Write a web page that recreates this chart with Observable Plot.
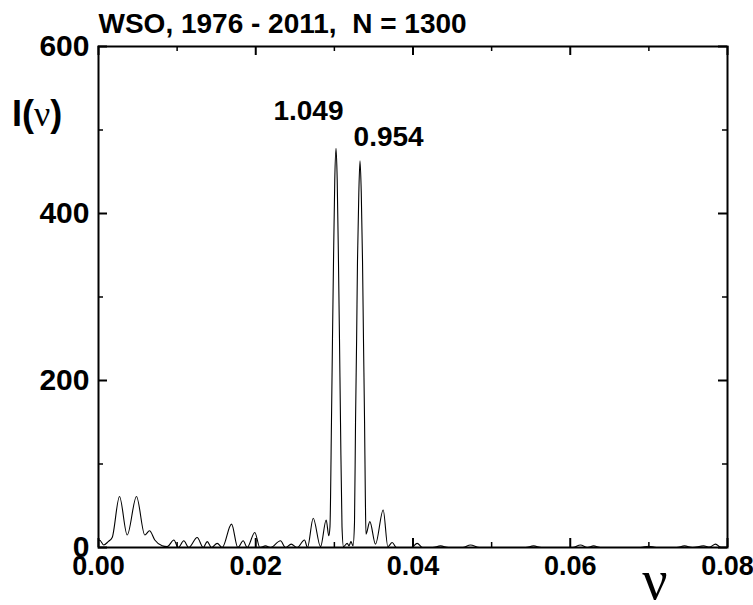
<!DOCTYPE html>
<html><head><meta charset="utf-8">
<script src="https://cdn.jsdelivr.net/npm/d3@7"></script>
<script src="https://cdn.jsdelivr.net/npm/@observablehq/plot@0.6"></script>
<style>
body{margin:0;background:#fff}
svg{display:block}
</style>
</head><body><div id="chart"></div>
<script>
// Frequency (nu) and periodogram intensity I(nu)
const nu = [
0.00000,0.00013,0.00067,0.00123,0.00174,0.00267,0.00365,0.00483,0.00589,0.00649,
0.00716,0.00810,0.00874,0.00958,0.01014,0.01085,0.01148,0.01255,0.01332,0.01383,
0.01437,0.01510,0.01573,0.01692,0.01772,0.01840,0.01891,0.01988,0.02052,0.02124,
0.02188,0.02315,0.02378,0.02451,0.02527,0.02620,0.02658,0.02731,0.02824,0.02896,
0.02929,0.02944,0.02963,0.02976,0.02989,0.03005,0.03021,0.03036,0.03052,0.03065,
0.03078,0.03097,0.03116,0.03163,0.03186,0.03211,0.03237,0.03256,0.03269,0.03283,
0.03294,0.03311,0.03326,0.03342,0.03358,0.03370,0.03384,0.03394,0.03402,0.03451,
0.03523,0.03621,0.03680,0.03735,0.03790,0.03981,0.04053,0.04121,0.04248,0.04350,
0.04452,0.04630,0.04731,0.04846,0.05431,0.05533,0.05634,0.06029,0.06130,0.06219,
0.06296,0.06385,0.06894,0.06996,0.07097,0.07351,0.07453,0.07555,0.07695,0.07771,
0.07847,0.07924,0.08000];
const intensity = [
8,9,3,7,12,61,15,61,15,20,
9,2,1,9,0,8,0,12,0,7,
0,5,0,28,0,8,0,18,0,2,
0,8,0,4,0,9,0,35,1,33,
14,25,150,250,343,440,478,440,343,250,
150,25,1,5,2,7,2,30,150,250,
343,425,463,425,343,250,150,60,16,31,
4,45,1,6,0,0,5,0,0,2,
0,0,3,0,0,2,0,0,3,0,
2,0,0,1.5,0,0,2,0,2,0.5,
4,0,0];

const xMajorTicks = [0, 0.02, 0.04, 0.06, 0.08];
const xMinorTicks = [0.01, 0.03, 0.05, 0.07];
const yMajorTicks = [0, 200, 400, 600];
const yMinorTicks = [100, 300, 500];
const xTickLabels = ["0.00", "0.02", "0.04", "0.06", "0.08"];
const yTickLabels = ["0", "200", "400", "600"];

const peakLabels = ["1.049", "0.954"];
const peakLabelNu = [0.0267, 0.0369];
const peakLabelI = [523, 491];

const titleText = "WSO, 1976 - 2011,  N = 1300";

const data = nu.map((v, i) => ({nu: v, I: intensity[i]}));
const peaks = peakLabels.map((t, i) => ({t, nu: peakLabelNu[i], I: peakLabelI[i]}));

const W = 753, H = 605, mL = 98, mR = 26, mT = 46, mB = 58;
const pw = W - mL - mR, ph = H - mT - mB;
const sans = "'Liberation Sans', Arial, Helvetica, sans-serif";
const serif = "'Liberation Serif', 'Times New Roman', serif";

const chart = Plot.plot({
  width: W, height: H,
  marginLeft: mL, marginRight: mR, marginTop: mT, marginBottom: mB,
  style: {fontFamily: sans, background: "#fff", color: "#000"},
  x: {domain: [0, 0.08], label: null},
  y: {domain: [0, 600], label: null},
  marks: [
    Plot.line(data, {x: "nu", y: "I", curve: "monotone-x", stroke: "#000", strokeWidth: 1.1, clip: true}),
    Plot.frame({stroke: "#000", strokeWidth: 2}),
    // inward ticks on all four sides
    Plot.tickX(xMajorTicks, {x: d => d, insetTop: ph - 9, stroke: "#000", strokeWidth: 2}),
    Plot.tickX(xMajorTicks, {x: d => d, insetBottom: ph - 9, stroke: "#000", strokeWidth: 2}),
    Plot.tickX(xMinorTicks, {x: d => d, insetTop: ph - 5, stroke: "#000", strokeWidth: 1.5}),
    Plot.tickX(xMinorTicks, {x: d => d, insetBottom: ph - 5, stroke: "#000", strokeWidth: 1.5}),
    Plot.tickY(yMajorTicks, {y: d => d, insetRight: pw - 9, stroke: "#000", strokeWidth: 2}),
    Plot.tickY(yMajorTicks, {y: d => d, insetLeft: pw - 9, stroke: "#000", strokeWidth: 2}),
    Plot.tickY(yMinorTicks, {y: d => d, insetRight: pw - 5, stroke: "#000", strokeWidth: 1.5}),
    Plot.tickY(yMinorTicks, {y: d => d, insetLeft: pw - 5, stroke: "#000", strokeWidth: 1.5}),
    Plot.axisX(xMajorTicks, {anchor: "bottom", tickSize: 0, tickPadding: 8,
      tickFormat: d => xTickLabels[xMajorTicks.indexOf(d)],
      fontSize: 27, fontWeight: "bold", fill: "#000"}),
    Plot.axisY(yMajorTicks, {anchor: "left", tickSize: 0, tickPadding: 9,
      tickFormat: d => yTickLabels[yMajorTicks.indexOf(d)],
      fontSize: 30, fontWeight: "bold", fill: "#000"}),
    Plot.text(peaks, {x: "nu", y: "I", text: "t", fontSize: 28, fontWeight: "bold", fill: "#000"}),
    Plot.text([titleText], {frameAnchor: "top-left", textAnchor: "start", dy: -33,
      fontSize: 28, fontWeight: "bold", fill: "#000"})
  ]
});

document.getElementById("chart").appendChild(chart);
const svg = d3.select(chart);
svg.selectAll("text").style("white-space", "pre");

// y-axis label I(ν)
const yl = svg.append("text")
  .attr("x", 12).attr("y", 126).attr("text-anchor", "start")
  .attr("fill", "#000").attr("font-size", 36);
yl.append("tspan").attr("font-family", sans).attr("font-weight", "bold").text("I(");
yl.append("tspan").attr("font-family", serif).text("ν");
yl.append("tspan").attr("font-family", sans).attr("font-weight", "bold").text(")");

// x-axis label ν
svg.append("text")
  .attr("x", 655).attr("y", 599).attr("text-anchor", "middle")
  .attr("font-family", serif).attr("font-size", 56).attr("fill", "#000")
  .text("ν");
</script>
</body></html>
